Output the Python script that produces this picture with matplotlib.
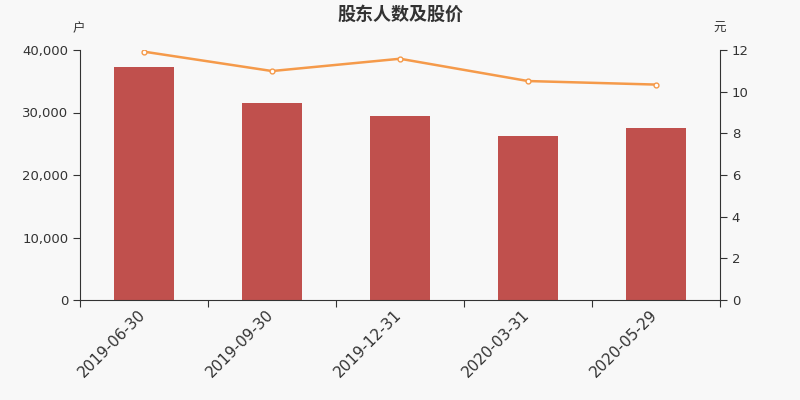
import matplotlib
matplotlib.use("Agg")
import matplotlib.pyplot as plt
import matplotlib.transforms as mtransforms
import numpy as np
from matplotlib.ticker import FuncFormatter, MultipleLocator

plt.rcParams['font.family'] = ['DejaVu Sans', 'Noto Sans CJK SC']

dates = ["2019-06-30", "2019-09-30", "2019-12-31", "2020-03-31", "2020-05-29"]
holders = [37280, 31520, 29520, 26320, 27600]
price = [11.92, 10.99, 11.58, 10.51, 10.34]

bg = "#f8f8f8"
txt = "#333333"
cjk = ['Noto Sans CJK SC', 'DejaVu Sans']

fig = plt.figure(figsize=(8, 4), dpi=100, facecolor=bg)
ax = fig.add_axes([0.1, 0.25, 0.8, 0.625], facecolor=bg)
ax2 = ax.twinx()

x = np.arange(len(dates))
ax.bar(x, holders, width=0.47, color="#c0504d", zorder=2)
ax2.plot(x, price, color="#f59a4a", linewidth=1.8, marker="o", markersize=3.5,
         markerfacecolor="white", markeredgecolor="#f59a4a", markeredgewidth=1, zorder=3)

ax.set_xlim(-0.5, len(dates) - 0.5)
ax.set_ylim(0, 40000)
ax2.set_ylim(0, 12)
ax.yaxis.set_major_locator(MultipleLocator(10000))
ax2.yaxis.set_major_locator(MultipleLocator(2))
ax.yaxis.set_major_formatter(FuncFormatter(lambda v, p: f"{int(v):,}"))

# ticks between categories, labels at centers
ax.set_xticks(np.arange(-0.5, len(dates), 1.0))
ax.set_xticklabels([])
ax.set_xticks(x, minor=True)
ax.set_xticklabels(dates, minor=True, rotation=45, ha="right", rotation_mode="anchor",
                   fontsize=11, color=txt)
ax.tick_params(axis="x", which="minor", length=0, pad=5)
ax.tick_params(axis="x", which="major", length=5, color=txt)
ax.tick_params(axis="y", length=5, color=txt, labelsize=9.5, labelcolor=txt)
ax2.tick_params(axis="y", length=5, color=txt, labelsize=9.5, labelcolor=txt)

# petit décalage vers la gauche des dates
decal = mtransforms.ScaledTranslation(-6 / 100, 0, fig.dpi_scale_trans)
for lab in ax.get_xticklabels(minor=True):
    lab.set_transform(lab.get_transform() + decal)

for a in (ax, ax2):
    a.spines["top"].set_visible(False)
    for s in ("left", "right", "bottom"):
        a.spines[s].set_color(txt)
ax.spines["right"].set_visible(False)
ax2.spines["left"].set_visible(False)
ax2.spines["bottom"].set_visible(False)

fig.text(0.5, 0.965, "股东人数及股价", ha="center", va="center", fontsize=13,
         fontweight="bold", color=txt, family=cjk)
fig.text(0.098, 0.928, "户", ha="center", va="center", fontsize=9, color=txt, family=cjk)
fig.text(0.899, 0.928, "元", ha="center", va="center", fontsize=9, color=txt, family=cjk)

fig.savefig("out.png", dpi=100, facecolor=bg)
